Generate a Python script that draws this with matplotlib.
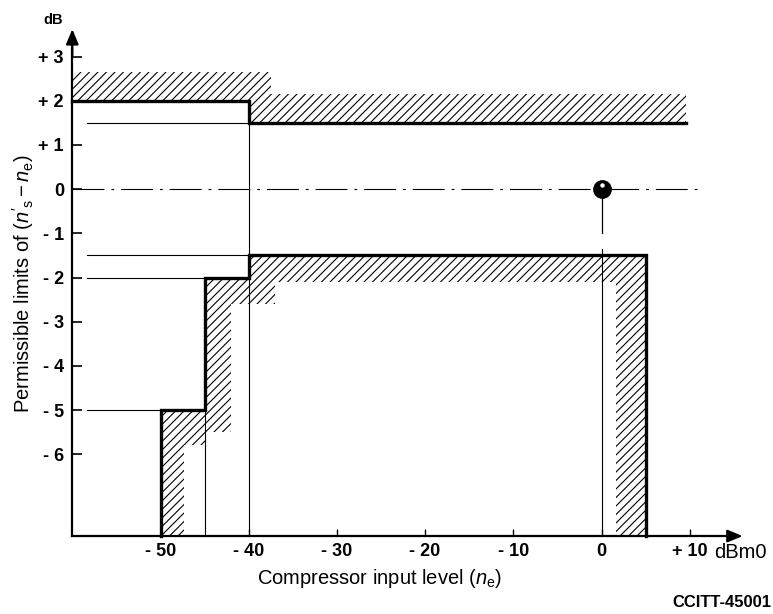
import numpy as np
import matplotlib.pyplot as plt
from matplotlib.collections import LineCollection
from matplotlib.patches import Polygon
from matplotlib.transforms import offset_copy, IdentityTransform

plt.rcParams['font.family'] = ['Liberation Sans', 'DejaVu Sans']
plt.rcParams['mathtext.fontset'] = 'custom'
plt.rcParams['mathtext.rm'] = 'Liberation Sans'
plt.rcParams['mathtext.it'] = 'Liberation Sans:italic'
plt.rcParams['lines.scale_dashes'] = False

# axis ticks (dBm0 / dB)
x_ticks = [-50, -40, -30, -20, -10, 0, 10]
x_labels = ['- 50', '- 40', '- 30', '- 20', '- 10', '0', '+ 10']
y_ticks = [3, 2, 1, 0, -1, -2, -3, -4, -5, -6]
y_labels = ['+ 3', '+ 2', '+ 1', '0', '- 1', '- 2', '- 3', '- 4', '- 5', '- 6']

x_start, x_end = -60, 16
y_floor, y_top = -7.85, 3.62

# upper limit
upper_x = [-60, -40, -40, 9.6]
upper_y = [2, 2, 1.5, 1.5]
upper_hatch_x = [-60, -40, -40, 9.6, 9.6, -37.5, -37.5, -60]
upper_hatch_y = [2, 2, 1.5, 1.5, 2.15, 2.15, 2.65, 2.65]

# lower limit
lower_x = [-50, -50, -45, -45, -40, -40, 5, 5]
lower_y = [y_floor, -5, -5, -2, -2, -1.5, -1.5, y_floor]
lower_hatch_x = [-50, -50, -45, -45, -40, -40, 5, 5, 1.6, 1.6,
                 -37, -37, -42, -42, -45, -45, -47.3, -47.3]
lower_hatch_y = [y_floor, -5, -5, -2, -2, -1.5, -1.5, y_floor, y_floor, -2.1,
                 -2.1, -2.6, -2.6, -5.5, -5.5, -5.8, -5.8, y_floor]

# thin guide lines
guide_levels = [1.5, -1.5, -2, -5]
guide_ends = [-40, -40, -45, -50]
guide_start = -58.3
vert_x = [-40, -45, 0]
vert_top = [2, -5, -1.35]

ref_x, ref_y, stem_end = 0, 0, -1.0


def hatch_area(ax, xs, ys, spacing=8.5):
    # 45 degree strokes in pixel space, clipped to the area
    poly = Polygon(np.column_stack([xs, ys]), closed=True, facecolor='none', lw=0)
    ax.add_patch(poly)
    w, h = ax.figure.bbox.width, ax.figure.bbox.height
    segs = [[(x0, 0), (x0 + h, h)] for x0 in np.arange(-h, w, spacing)]
    lc = LineCollection(segs, colors='black', linewidths=0.8, transform=IdentityTransform())
    lc.set_clip_path(poly)
    ax.add_collection(lc, autolim=False)


fig = plt.figure(figsize=(7.73, 6.14), dpi=100)
ax = fig.add_axes([0, 0, 1, 1])
ax.set_xlim(-601.5 / 8.82, (773 - 601.5) / 8.82)
ax.set_ylim((189.1 - 614) / 44.2, 189.1 / 44.2)
ax.patch.set_alpha(0)

hatch_area(ax, upper_hatch_x, upper_hatch_y)
hatch_area(ax, lower_hatch_x, lower_hatch_y)

# guides
for lev, end in zip(guide_levels, guide_ends):
    ax.plot([guide_start, end], [lev, lev], color='black', lw=0.8)
for vx, vt in zip(vert_x, vert_top):
    ax.plot([vx, vx], [vt, y_floor], color='black', lw=0.8)

ax.plot([x_start, 11], [0, 0], color='black', lw=0.8,
        linestyle=(0, (23, 5, 2, 5)))

# limit lines
ax.plot(upper_x, upper_y, color='black', lw=2.4, solid_joinstyle='miter')
ax.plot(lower_x, lower_y, color='black', lw=2.4, solid_joinstyle='miter')

# reference point
ax.plot([ref_x, ref_x], [ref_y, stem_end], color='black', lw=0.9)
ax.plot(ref_x, ref_y, 'o', color='black', ms=12.5)
hl = offset_copy(ax.transData, fig=fig, x=0, y=3, units='points')
ax.plot(ref_x, ref_y, 'o', color='white', ms=2.2, transform=hl)

# axes
for s in ['top', 'right']:
    ax.spines[s].set_visible(False)
ax.spines['left'].set_position(('data', x_start))
ax.spines['bottom'].set_position(('data', y_floor))
ax.spines['left'].set_bounds(y_floor, y_top - 0.3)
ax.spines['bottom'].set_bounds(x_start, x_end - 0.6)
ax.spines['left'].set_linewidth(1.6)
ax.spines['bottom'].set_linewidth(1.6)

arrow = dict(arrowstyle='-|>,head_length=0.6,head_width=0.25', color='black',
             lw=1.6, mutation_scale=15, shrinkA=0, shrinkB=0)
ax.annotate('', xy=(x_start, y_top), xytext=(x_start, y_top - 0.6), arrowprops=arrow)
ax.annotate('', xy=(x_end, y_floor), xytext=(x_end - 1.2, y_floor), arrowprops=arrow)

tick_font = dict(family=['Liberation Sans Narrow', 'Liberation Sans'], weight='bold', size=13)
ax.set_xticks(x_ticks)
ax.set_xticklabels(x_labels, fontdict=tick_font)
ax.set_yticks(y_ticks)
ax.set_yticklabels(y_labels, fontdict=tick_font)
ax.tick_params(axis='y', direction='in', length=7, width=1.2, pad=6)
ax.tick_params(axis='x', direction='in', length=5, width=1.0, pad=5)

ax.text(-62.2, 3.82, 'dB', ha='center', va='center',
        fontsize=10.5, fontweight='bold')
ax.text(12.8, y_floor - 0.38, 'dBm0', ha='left', va='center', fontsize=14.5)
ax.text(-25.2, y_floor - 0.95, r'Compressor input level ($n_{\mathrm{e}}$)',
        ha='center', va='center', fontsize=14.5)
ax.text(-65.6, -2.15, r"Permissible limits of ($n'_{\mathrm{s}} - n_{\mathrm{e}}$)",
        ha='center', va='center', rotation=90, fontsize=14.5)
ax.text(19.3, y_floor - 1.5, 'CCITT-45001', ha='right', va='center',
        fontsize=12, fontweight='bold')

fig.savefig('out.png', dpi=100)
